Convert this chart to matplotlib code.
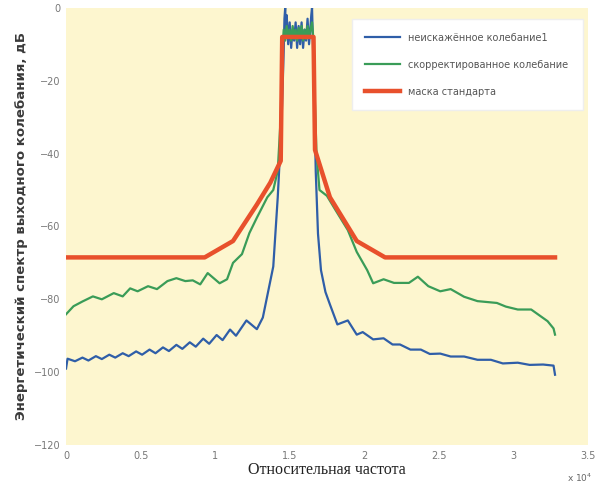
import matplotlib
matplotlib.use("Agg")
import matplotlib.pyplot as plt

# frequency axis in units of 10^4
blue_x = [0.00, 0.01, 0.06, 0.11, 0.15, 0.20, 0.24, 0.29, 0.33, 0.38, 0.42, 0.47, 0.51,
          0.56, 0.60, 0.65, 0.69, 0.74, 0.78, 0.83, 0.87, 0.92, 0.96, 1.01, 1.05, 1.10,
          1.14, 1.21, 1.28, 1.32, 1.35, 1.39, 1.42, 1.445, 1.46, 1.465,
          1.47, 1.475, 1.48, 1.49, 1.50, 1.51, 1.52, 1.53, 1.54, 1.55, 1.56, 1.57, 1.58,
          1.59, 1.60, 1.61, 1.62, 1.63, 1.64, 1.645, 1.65, 1.655,
          1.665, 1.675, 1.69, 1.71, 1.74, 1.77, 1.82, 1.89, 1.95, 1.99, 2.06, 2.13, 2.19,
          2.24, 2.31, 2.38, 2.44, 2.51, 2.58, 2.67, 2.76, 2.85, 2.93, 3.03, 3.11, 3.20,
          3.27, 3.28]
blue_y = [-99.0, -96.3, -97.0, -96.0, -96.8, -95.6, -96.4, -95.2, -96.0, -94.8, -95.6, -94.3, -95.2,
          -93.8, -94.8, -93.2, -94.2, -92.5, -93.6, -91.8, -93.0, -90.8, -92.2, -89.8, -91.2, -88.3,
          -90.0, -85.8, -88.2, -85.0, -79.0, -71.0, -52.0, -32.0, -12.0, -3.0,
          0.0, -8.0, -2.0, -10.0, -4.0, -11.0, -6.0, -9.0, -4.0, -11.0, -5.0, -10.0, -4.0,
          -11.0, -6.0, -9.0, -3.0, -10.0, -5.0, -2.0, 0.0, -8.0,
          -25.0, -45.0, -62.0, -72.0, -78.0, -81.4, -86.9, -85.8, -89.7, -89.0, -91.0, -90.7, -92.4,
          -92.4, -93.8, -93.8, -95.0, -94.9, -95.7, -95.7, -96.6, -96.6, -97.6, -97.4, -98.0, -97.9,
          -98.2, -100.7]

green_x = [0.00, 0.05, 0.11, 0.18, 0.24, 0.32, 0.38, 0.43, 0.48, 0.55, 0.61, 0.68, 0.74,
           0.80, 0.85, 0.90, 0.95, 1.03, 1.08, 1.12, 1.18, 1.23, 1.28, 1.35, 1.39, 1.42,
           1.44, 1.45, 1.46, 1.47, 1.48, 1.49, 1.50, 1.51, 1.52, 1.53, 1.54, 1.55, 1.56,
           1.57, 1.58, 1.59, 1.60, 1.61, 1.62, 1.63, 1.64, 1.65, 1.66,
           1.665, 1.68, 1.70, 1.75, 1.80, 1.89, 1.95, 2.02, 2.06, 2.13, 2.20, 2.30, 2.36,
           2.43, 2.51, 2.58, 2.67, 2.76, 2.89, 2.95, 3.03, 3.12, 3.23, 3.27, 3.28]
green_y = [-84.1, -81.9, -80.6, -79.2, -80.0, -78.3, -79.2, -77.0, -77.8, -76.4, -77.2, -75.0, -74.2,
           -75.0, -74.8, -75.9, -72.8, -75.6, -74.5, -70.0, -67.6, -61.8, -57.6, -52.0, -50.0, -44.7,
           -30.0, -12.0, -6.0, -9.0, -5.0, -8.0, -6.0, -9.0, -5.0, -8.5, -6.0, -9.0, -5.5,
           -8.0, -5.0, -9.0, -6.0, -8.5, -5.0, -8.0, -6.0, -4.0, -9.0,
           -20.0, -40.0, -50.0, -51.6, -55.0, -61.0, -67.0, -72.0, -75.6, -74.5, -75.5, -75.5, -73.8,
           -76.4, -77.8, -77.2, -79.3, -80.5, -81.0, -82.0, -82.8, -82.8, -86.0, -88.0, -89.7]

mask_x = [0.00, 0.93, 1.12, 1.28, 1.37, 1.44, 1.45, 1.66, 1.67, 1.77, 1.95, 2.14, 3.28]
mask_y = [-68.5, -68.5, -64.0, -54.0, -48.0, -42.0, -8.0, -8.0, -39.0, -52.0, -64.0, -68.5, -68.5]

labels = ["неискажённое колебание1", "скорректированное колебание", "маска стандарта"]
xticks = [0, 0.5, 1, 1.5, 2, 2.5, 3, 3.5]
yticks = [0, -20, -40, -60, -80, -100, -120]

fig = plt.figure(figsize=(6.06, 4.88), dpi=100)
ax = fig.add_axes([0.109, 0.088, 0.861, 0.896])
ax.set_facecolor("#fdf6cf")

ax.plot(blue_x, blue_y, color="#2f5ea8", lw=1.6, label=labels[0])
ax.plot(green_x, green_y, color="#3a9c58", lw=1.6, label=labels[1])
ax.plot(mask_x, mask_y, color="#e8502c", lw=3.2, label=labels[2])

ax.set_xlim(0, 3.5)
ax.set_ylim(-120, 0)
ax.set_xticks(xticks)
ax.set_xticklabels([f"{t:g}" for t in xticks])
ax.set_yticks(yticks)
for s in ax.spines.values():
    s.set_visible(False)
ax.tick_params(colors="#777777", labelsize=7, length=0, pad=4)

ax.set_ylabel("Энергетический спектр выходного колебания, дБ", fontsize=9.5,
              fontweight="bold", color="#3a3a3a")
ax.yaxis.set_label_coords(-0.073, 0.5)
ax.set_xlabel("Относительная частота", family="Liberation Serif", fontsize=11.5,
              color="#222222", labelpad=1)
fig.text(0.935, 0.012, r"x 10$^4$", fontsize=6.5, color="#666666")

leg = ax.legend(loc="upper left", bbox_to_anchor=(0.538, 0.765, 0.462, 0.22), mode="expand",
                fontsize=7, handlelength=3.6, labelspacing=1.75, borderpad=1.4,
                fancybox=False, framealpha=1, edgecolor="#eeeeee", labelcolor="#555555")
leg.get_frame().set_facecolor("white")

plt.savefig("out.png", dpi=100)
